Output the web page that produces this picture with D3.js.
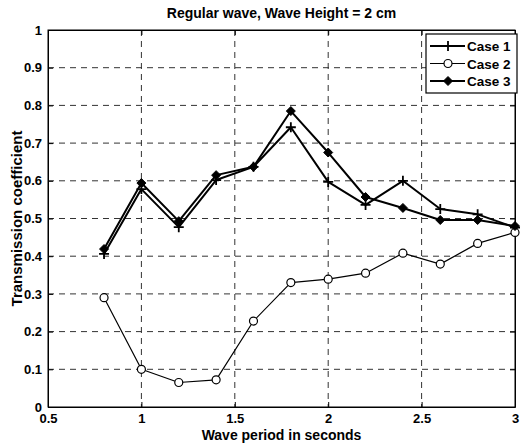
<!DOCTYPE html>
<html>
<head>
<meta charset="utf-8">
<script src="https://cdn.jsdelivr.net/npm/d3@7"></script>
<style>
  html, body { margin: 0; padding: 0; background: #fff; }
  svg text { font-family: "Liberation Sans", Arial, sans-serif; font-weight: bold; fill: #000; }
</style>
</head>
<body>
<svg id="chart" width="529" height="447"></svg>
<script>
// Wave periods (s) and transmission coefficients for each case
const periods = [0.8, 1.0, 1.2, 1.4, 1.6, 1.8, 2.0, 2.2, 2.4, 2.6, 2.8, 3.0];
const case1 = [0.406, 0.578, 0.477, 0.602, 0.637, 0.742, 0.597, 0.536, 0.600, 0.525, 0.511, 0.476];
const case2 = [0.290, 0.100, 0.065, 0.072, 0.228, 0.330, 0.339, 0.355, 0.408, 0.379, 0.434, 0.463];
const case3 = [0.419, 0.594, 0.493, 0.615, 0.637, 0.785, 0.675, 0.557, 0.528, 0.496, 0.496, 0.480];
const seriesNames = ["Case 1", "Case 2", "Case 3"];
const xTicks = [0.5, 1, 1.5, 2, 2.5, 3];
const yTicks = [0, 0.1, 0.2, 0.3, 0.4, 0.5, 0.6, 0.7, 0.8, 0.9, 1];

const W = 529, H = 447;
const m = { left: 48, right: 14, top: 30, bottom: 40 };
const svg = d3.select("#chart");

const x = d3.scaleLinear().domain([0.5, 3]).range([m.left, W - m.right]);
const y = d3.scaleLinear().domain([0, 1]).range([H - m.bottom, m.top]);

// Dashed grid
const grid = svg.append("g").attr("stroke", "#333").attr("stroke-width", 1)
  .attr("stroke-dasharray", "6,5");
grid.selectAll("line.h").data(yTicks.slice(1, -1)).join("line")
  .attr("x1", m.left).attr("x2", W - m.right)
  .attr("y1", d => y(d)).attr("y2", d => y(d));
grid.selectAll("line.v").data(xTicks.slice(1, -1)).join("line")
  .attr("y1", m.top).attr("y2", H - m.bottom)
  .attr("x1", d => x(d)).attr("x2", d => x(d));

// Axes with inward ticks
const xAxis = svg.append("g").attr("transform", `translate(0,${H - m.bottom})`)
  .call(d3.axisBottom(x).tickValues(xTicks).tickSizeInner(-5).tickSizeOuter(0).tickPadding(9)
    .tickFormat(d3.format("")));
const yAxis = svg.append("g").attr("transform", `translate(${m.left},0)`)
  .call(d3.axisLeft(y).tickValues(yTicks).tickSizeInner(-5).tickSizeOuter(0).tickPadding(6)
    .tickFormat(d3.format("")));
[xAxis, yAxis].forEach(a => {
  a.selectAll("text").style("font-size", "13px");
  a.selectAll("line").attr("stroke", "#000");
  a.select(".domain").attr("stroke", "#000");
});
xAxis.selectAll(".tick text").attr("dy", "0.5em");
// Top and right ticks + frame
svg.append("g").attr("transform", `translate(0,${m.top})`)
  .call(d3.axisTop(x).tickValues(xTicks).tickSizeInner(-5).tickSizeOuter(0).tickFormat(""))
  .call(g => g.selectAll("line,path").attr("stroke", "#000"));
svg.append("g").attr("transform", `translate(${W - m.right},0)`)
  .call(d3.axisRight(y).tickValues(yTicks).tickSizeInner(-5).tickSizeOuter(0).tickFormat(""))
  .call(g => g.selectAll("line,path").attr("stroke", "#000"));
svg.append("rect").attr("x", m.left).attr("y", m.top)
  .attr("width", W - m.left - m.right).attr("height", H - m.top - m.bottom)
  .attr("fill", "none").attr("stroke", "#000").attr("stroke-width", 1);

// Series
const line = d3.line().x(d => x(d[0])).y(d => y(d[1]));
const allSeries = [case1, case2, case3].map((vals, i) => ({
  name: seriesNames[i],
  pts: periods.map((p, j) => [p, vals[j]]),
  width: i === 1 ? 1.2 : 2
}));

function marker(g, kind, cx, cy) {
  if (kind === 0) {
    g.append("path").attr("d", `M${cx - 5},${cy}H${cx + 5}M${cx},${cy - 5}V${cy + 5}`)
      .attr("stroke", "#000").attr("stroke-width", 1.8).attr("fill", "none");
  } else if (kind === 1) {
    g.append("circle").attr("cx", cx).attr("cy", cy).attr("r", 4)
      .attr("fill", "#fff").attr("stroke", "#000").attr("stroke-width", 1.2);
  } else {
    g.append("path").attr("d", `M${cx},${cy - 4.5}L${cx + 4.5},${cy}L${cx},${cy + 4.5}L${cx - 4.5},${cy}Z`)
      .attr("fill", "#000").attr("stroke", "#000").attr("stroke-width", 1);
  }
}

allSeries.forEach((s, i) => {
  const g = svg.append("g");
  g.append("path").datum(s.pts).attr("d", line)
    .attr("fill", "none").attr("stroke", "#000").attr("stroke-width", s.width)
    .attr("stroke-linejoin", "round");
  s.pts.forEach(p => marker(g, i, x(p[0]), y(p[1])));
});

// Legend
const lg = svg.append("g");
const lx = 426, ly = 34, lw = 91, lh = 59;
lg.append("rect").attr("x", lx).attr("y", ly).attr("width", lw).attr("height", lh)
  .attr("fill", "#fff").attr("stroke", "#000").attr("stroke-width", 1.2);
allSeries.forEach((s, i) => {
  const yy = ly + 12 + i * 17.5;
  lg.append("line").attr("x1", lx + 4).attr("x2", lx + 39).attr("y1", yy).attr("y2", yy)
    .attr("stroke", "#000").attr("stroke-width", s.width);
  marker(lg, i, lx + 22, yy);
  lg.append("text").attr("x", lx + 41).attr("y", yy + 5).style("font-size", "13.5px").text(s.name);
});

// Titles
svg.append("text").attr("x", (m.left + W - m.right) / 2).attr("y", 18)
  .attr("text-anchor", "middle").style("font-size", "14px")
  .text("Regular wave, Wave Height = 2 cm");
svg.append("text").attr("x", (m.left + W - m.right) / 2).attr("y", 440)
  .attr("text-anchor", "middle").style("font-size", "14px")
  .text("Wave period in seconds");
svg.append("text").attr("transform", `translate(22,${(m.top + H - m.bottom) / 2}) rotate(-90)`)
  .attr("text-anchor", "middle").style("font-size", "15px")
  .text("Transmission coefficient");
</script>
</body>
</html>
